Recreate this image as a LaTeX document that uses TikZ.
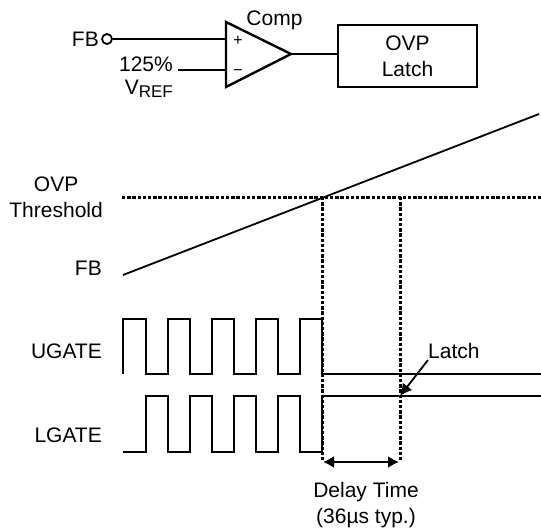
\documentclass[tikz,border=0pt]{standalone}
\usepackage{fontspec}
\setmainfont{Liberation Sans}
\usetikzlibrary{arrows.meta,positioning}

\begin{document}
\begin{tikzpicture}[
        x=1pt, y=-1pt,
        every node/.style={inner sep=0pt, align=center, font=\fontsize{21}{26}\selectfont},
        wire/.style={line width=2.2pt},
        wave/.style={line width=1.5pt, line join=miter},
        thresh/.style={line width=3pt, dash pattern=on 3.4pt off 1.8pt},
        pointer/.style={line width=1.8pt, -{Latex[length=12pt,width=12pt]}},
        span/.style={line width=1.8pt, {Latex[length=11pt,width=12pt]}-{Latex[length=11pt,width=12pt]}}
    ]
    \useasboundingbox (0,0) rectangle (541,532);

    % Comparator
      \coordinate (ctop) at (226,22);
      \coordinate (cbot) at (226,87);
      \coordinate (capex) at (291,54);
      \coordinate (cplus) at (226,39);
      \coordinate (cminus) at (226,70);
      \draw[wire, line width=2.4pt, line join=miter] (ctop) -- (capex) -- (cbot) -- cycle;
      \node (plus) at (238,41) {\fontsize{16}{16}\selectfont +};
      \node (minus) at (238,73) {\fontsize{16}{16}\selectfont \textminus};
      \node (comp) at (274.5,20) {Comp};

      \node (fblabel)[anchor=east] at (99,39) {FB};
      \node (fbpin)[draw, wire, circle, minimum size=10pt, line width=1.8pt] at (107,39) {};
      \coordinate (vrefend) at (178,70);
      \node (ref125)[anchor=east] at (173,64.5) {125\%};
      \node (vref)[anchor=base east] at (173,95) {V\raisebox{-3pt}{\fontsize{17}{17}\selectfont REF}};
      \node (latchbox)[draw, wire, minimum width=139pt, minimum height=62pt] at (407.5,56) {OVP\\Latch};

      \draw[wire] (fbpin) -- (cplus);
      \draw[wire] (vrefend) -- (cminus);
      \draw[wire] (capex) -- (capex -| latchbox.west);

    % Waveform labels
      \node (ovplabel)[anchor=east] at (103,197) {OVP\\Threshold};
      \node (fbwave)[anchor=east] at (102,268) {FB};
      \node (ugate)[anchor=east] at (102,351) {UGATE};
      \node (lgate)[anchor=east] at (102,435) {LGATE};

    % FB ramp and threshold
      \coordinate (rampa) at (123,275);
      \coordinate (rampb) at (539,114);
      \draw[wave, line width=1.8pt] (rampa) -- (rampb);
      \coordinate (tha) at (122,197);
      \coordinate (thb) at (322,197);
      \coordinate (thc) at (400,197);
      \coordinate (thd) at (541,197);
      \coordinate (tda) at (322,460);
      \coordinate (tdb) at (400,460);
      \draw[thresh] (tha) -- (thd);
      \draw[thresh] (thb) -- (tda);
      \draw[thresh] (thc) -- (tdb);

    % Gate pulses
      \draw[wave] (123,374) -- (123,319) -- (146,319) -- (146,374)
          foreach \px in {168,212,256,300} {
            -- (\px,374) -- (\px,319) -- ({\px+22},319) -- ({\px+22},374)
          } -- (541,374);
      \draw[wave] (123,452) -- (146,452) -- (146,396)
          foreach \px in {168,212,256} {
            -- (\px,396) -- (\px,452) -- ({\px+22},452) -- ({\px+22},396)
          } -- (300,396) -- (300,452) -- (322,452) -- (322,396) -- (541,396);

    % Latch callout and delay
      \node (latchtext)[anchor=west] at (428,351) {Latch};
      \coordinate (latchtail) at (428,360);
      \coordinate (latchtip) at (400,396);
      \draw[pointer] (latchtail) -- (latchtip);
      \coordinate (dla) at (323,462);
      \coordinate (dlb) at (399,462);
      \draw[span] (dla) -- (dlb);
      \node (delay) at (366,505.5) {Delay Time\\(36µs typ.)};
\end{tikzpicture}
\end{document}
